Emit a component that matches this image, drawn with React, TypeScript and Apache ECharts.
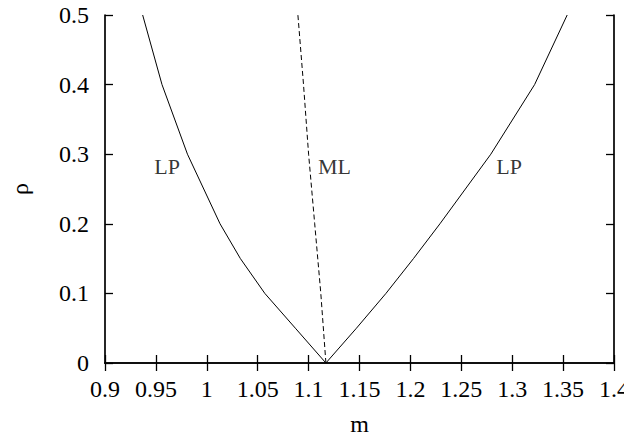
import React, { useEffect, useRef } from "react";
import * as echarts from "echarts";

// Left LP branch: [m, rho]
const lpLeft: number[][] = [
  [1.117, 0], [1.087, 0.05], [1.057, 0.1], [1.033, 0.15], [1.013, 0.2],
  [0.981, 0.3], [0.956, 0.4], [0.937, 0.5],
];
// Right LP branch
const lpRight: number[][] = [
  [1.117, 0], [1.147, 0.05], [1.176, 0.1], [1.203, 0.15], [1.229, 0.2],
  [1.279, 0.3], [1.322, 0.4], [1.354, 0.5],
];
// ML line (dashed)
const mlLine: number[][] = [
  [1.117, 0], [1.112, 0.1], [1.106, 0.2], [1.100, 0.3], [1.095, 0.4], [1.0895, 0.5],
];
// region labels
const regionLabels: { name: string; value: number[] }[] = [
  { name: "LP", value: [0.961, 0.283] },
  { name: "ML", value: [1.1255, 0.283] },
  { name: "LP", value: [1.297, 0.283] },
];

const FONT = "Liberation Serif";
const fmt = (v: number) => String(+v.toFixed(2));

export default function App() {
  const ref = useRef<HTMLDivElement>(null);
  useEffect(() => {
    if (!ref.current) return;
    const chart = echarts.init(ref.current, undefined, { renderer: "svg" });
    const axisLine = { show: true, lineStyle: { color: "#000", width: 1.7 } };
    const tick = { show: true, inside: true, length: 8, lineStyle: { color: "#000", width: 1.3 } };
    chart.setOption({
      animation: false,
      backgroundColor: "#fff",
      textStyle: { fontFamily: FONT },
      grid: { left: 105, right: 17, top: 15, bottom: 80, containLabel: false },
      xAxis: [
        {
          type: "value", min: 0.9, max: 1.4, interval: 0.05,
          name: "m", nameLocation: "middle", nameGap: 49,
          nameTextStyle: { fontFamily: FONT, fontSize: 24, color: "#000" },
          axisLine, axisTick: tick, splitLine: { show: false },
          axisLabel: { margin: 14, fontFamily: FONT, fontSize: 24, color: "#000", formatter: fmt },
        },
        {
          type: "value", position: "top", min: 0.9, max: 1.4, interval: 0.05,
          axisLine, axisTick: tick, splitLine: { show: false }, axisLabel: { show: false },
        },
      ],
      yAxis: [
        {
          type: "value", min: 0, max: 0.5, interval: 0.1,
          name: "ρ", nameLocation: "middle", nameGap: 73, nameRotate: 90,
          nameTextStyle: { fontFamily: FONT, fontSize: 24, color: "#000" },
          axisLine, axisTick: tick, splitLine: { show: false },
          axisLabel: { margin: 16, fontFamily: FONT, fontSize: 24, color: "#000", formatter: fmt },
        },
        {
          type: "value", position: "right", min: 0, max: 0.5, interval: 0.1,
          axisLine, axisTick: tick, splitLine: { show: false }, axisLabel: { show: false },
        },
      ],
      series: [
        {
          type: "line", data: lpLeft, symbol: "none", smooth: false,
          lineStyle: { color: "#000", width: 1 },
        },
        {
          type: "line", data: lpRight, symbol: "none", smooth: false,
          lineStyle: { color: "#000", width: 1 },
        },
        {
          type: "line", data: mlLine, symbol: "none", smooth: false,
          lineStyle: { color: "#000", width: 1, type: [5, 3] },
        },
        {
          type: "scatter", data: regionLabels, symbolSize: 0,
          label: {
            show: true, position: "inside", formatter: (p: any) => p.name,
            fontFamily: FONT, fontSize: 22, color: "#000",
          },
        },
      ],
    });
    return () => chart.dispose();
  }, []);
  return <div ref={ref} style={{ width: 632, height: 443, marginLeft: -8, marginTop: -8 }} />;
}
